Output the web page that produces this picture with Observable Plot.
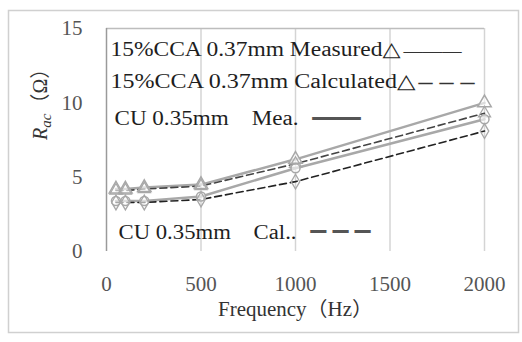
<!DOCTYPE html>
<html>
<head>
<meta charset="utf-8">
<script src="https://cdn.jsdelivr.net/npm/d3@7"></script>
<script src="https://cdn.jsdelivr.net/npm/@observablehq/plot@0.6"></script>
<style>
  body { margin: 0; background: white; }
  svg text { font-family: "Liberation Serif", "DejaVu Sans", "Noto Sans CJK JP", serif; }
</style>
</head>
<body>
<div id="chart"></div>
<script>
const freq = [50, 100, 200, 500, 1000, 2000];
const ccaMeasured = [4.2, 4.2, 4.3, 4.5, 6.2, 10.0];
const ccaCalculated = [4.1, 4.1, 4.2, 4.4, 5.9, 9.3];
const cuMeasured = [3.4, 3.4, 3.4, 3.7, 5.6, 8.9];
const cuCalculated = [3.3, 3.3, 3.3, 3.5, 4.7, 8.1];
const xTicks = [0, 500, 1000, 1500, 2000];
const yTicks = [0, 5, 10, 15];
const legendLabels = [
  "15%CCA 0.37mm Measured△",
  "15%CCA 0.37mm Calculated△",
  "CU 0.35mm    Mea.",
  "CU 0.35mm    Cal.."
];
const legendStrokes = ["———", "– – –", "━━", "━ ━ ━"];
const xLabel = "Frequency（Hz）";
const yLabel = "Rac（Ω）";

const rows = (vals) => freq.map((f, i) => ({f, v: vals[i]}));
const gray = "#a8a8a8";

const legendText = (label, dx, dy, opts = {}) =>
  Plot.text([label], {frameAnchor: "top-left", textAnchor: "start", lineAnchor: "middle",
    dx, dy, fontSize: 20, fill: "#1e1e1e", ...opts});

const chart = Plot.plot({
  width: 522,
  height: 342,
  marginLeft: 106,
  marginRight: 38,
  marginTop: 28,
  marginBottom: 91,
  x: {domain: [0, 2000]},
  y: {domain: [0, 15]},
  style: {background: "white"},
  marks: [
    Plot.gridX(xTicks.filter(d => d > 0), {stroke: "#d4d4d4", strokeWidth: 1.5, strokeOpacity: 1}),
    Plot.ruleY([15], {stroke: "#bdbdbd", strokeWidth: 1.5}),
    Plot.ruleX([0], {stroke: "#9a9a9a", strokeWidth: 1.5}),
    Plot.axisY(yTicks, {tickSize: 0, tickPadding: 24, fontSize: 21, fill: "#555", label: null, tickFormat: "d"}),
    Plot.axisX(xTicks, {tickSize: 0, tickPadding: 25, fontSize: 21, fill: "#555", label: null, tickFormat: "d"}),
    Plot.line(rows(ccaMeasured), {x: "f", y: "v", stroke: gray, strokeWidth: 2.5}),
    Plot.line(rows(cuMeasured), {x: "f", y: "v", stroke: gray, strokeWidth: 2.5}),
    Plot.line(rows(ccaCalculated), {x: "f", y: "v", stroke: "#444", strokeWidth: 1.6, strokeDasharray: "7,4"}),
    Plot.line(rows(cuCalculated), {x: "f", y: "v", stroke: "#222", strokeWidth: 1.6, strokeDasharray: "7,4"}),
    Plot.dot(rows(ccaMeasured), {x: "f", y: "v", symbol: "triangle", r: 5, stroke: gray, strokeWidth: 1.5, fill: "white", fillOpacity: 0.6}),
    Plot.dot(rows(ccaCalculated), {x: "f", y: "v", symbol: "triangle", r: 4.5, stroke: gray, strokeWidth: 1.3, fill: "none"}),
    Plot.dot(rows(cuMeasured), {x: "f", y: "v", symbol: "circle", r: 4.5, stroke: gray, strokeWidth: 1.5, fill: "white", fillOpacity: 0.6}),
    Plot.dot(rows(cuCalculated), {x: "f", y: "v", symbol: "diamond", r: 4.5, stroke: gray, strokeWidth: 1.3, fill: "none"}),
    legendText(legendLabels[0], 4, 21),
    legendText(legendStrokes[0], 297, 22, {fill: "#333", fontSize: 19}),
    legendText(legendLabels[1], 4, 53),
    legendText(legendStrokes[1], 312, 54, {fill: "#333", fontSize: 20, fontWeight: "bold"}),
    legendText(legendLabels[2], 8, 90),
    legendText(legendStrokes[2], 206, 91, {fill: "#555", fontSize: 18}),
    legendText(legendLabels[3], 12, 204),
    legendText(legendStrokes[3], 204, 204, {fill: "#555", fontSize: 18}),
    Plot.text([xLabel], {frameAnchor: "bottom", lineAnchor: "middle", dy: 58, fontSize: 20, fill: "#333"}),
    Plot.text([yLabel], {frameAnchor: "left", lineAnchor: "middle", dx: -66, rotate: -90, fontSize: 20, fill: "#333"})
  ]
});

// Text widths as in the reference scan
const widths = new Map([
  [legendLabels[0], 290], [legendLabels[1], 305], [legendLabels[2], 184], [legendLabels[3], 178],
  [legendStrokes[0], 58], [legendStrokes[1], 56], [legendStrokes[2], 48], [legendStrokes[3], 60],
  [xLabel, 155]
]);
d3.select(chart).selectAll("text").each(function() {
  const s = this.textContent;
  if (s === yLabel) {
    const t = d3.select(this);
    t.text(null);
    t.append("tspan").attr("font-style", "italic").text("R");
    t.append("tspan").attr("font-style", "italic").attr("font-size", 15).attr("dy", 4).text("ac");
    t.append("tspan").attr("dy", -4).text("（Ω）");
  } else if (widths.has(s)) {
    this.setAttribute("textLength", widths.get(s));
    this.setAttribute("lengthAdjust", "spacingAndGlyphs");
  }
});

// Outer chart-area border
d3.select(chart).insert("rect", ":first-child")
  .attr("x", 8.5).attr("y", 10.5).attr("width", 510).attr("height", 322)
  .attr("fill", "white").attr("stroke", "#d0d0d0").attr("stroke-width", 1.5);

document.getElementById("chart").appendChild(chart);
</script>
</body>
</html>
